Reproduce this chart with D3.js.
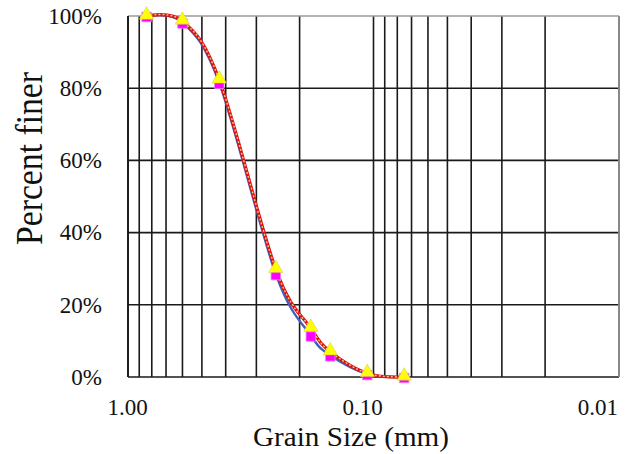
<!DOCTYPE html>
<html><head><meta charset="utf-8">
<script src="https://cdn.jsdelivr.net/npm/d3@7"></script>
<style>html,body{margin:0;padding:0;background:#fff;}</style>
</head><body>
<script>
// Data
const grainSizes = [0.84, 0.6, 0.425, 0.25, 0.18, 0.15, 0.106, 0.075];   // mm
const finerSquares = [100, 98.2, 81.5, 28.5, 11.5, 6.0, 0.8, 0];        // %
const finerTriangles = [100, 98.6, 82.3, 29.8, 13.5, 7.0, 1.0, 0];      // %
const xLabelTicks = [1, 0.1, 0.01];
const yTicks = [0, 20, 40, 60, 80, 100];
const xTitle = "Grain Size (mm)";
const yTitle = "Percent finer";

const W = 643, H = 454;
const m = {left: 128, right: 24, top: 16, bottom: 77};
const FONT = "'Liberation Serif', 'Times New Roman', serif";
const svg = d3.select("body").append("svg").attr("width", W).attr("height", H)
  .style("font-family", FONT);

const x = d3.scaleLog().domain([1, 0.01]).range([m.left, W - m.right]);
const y = d3.scaleLinear().domain([0, 100]).range([H - m.bottom, m.top]);

// vertical grid
const g = svg.append("g");
g.selectAll("line.vg").data(x.ticks()).join("line")
  .attr("x1", d => x(d)).attr("x2", d => x(d))
  .attr("y1", y(0)).attr("y2", y(100))
  .attr("stroke", "#1a1a1a").attr("stroke-width", 1.6);
// horizontal grid
g.selectAll("line.hg").data(yTicks).join("line")
  .attr("x1", x(1)).attr("x2", x(0.01))
  .attr("y1", d => y(d)).attr("y2", d => y(d))
  .attr("stroke", d => d === 100 ? "#9a9a9a" : "#1a1a1a").attr("stroke-width", 1.6);
// right border
g.append("line").attr("x1", x(0.01)).attr("x2", x(0.01)).attr("y1", y(0)).attr("y2", y(100))
  .attr("stroke", "#9a9a9a").attr("stroke-width", 1.6);
// left axis line
g.append("line").attr("x1", x(1)).attr("x2", x(1)).attr("y1", y(0)).attr("y2", y(100))
  .attr("stroke", "#1a1a1a").attr("stroke-width", 1.8);

// axes labels via d3 axes
const xAxis = d3.axisBottom(x).tickValues(xLabelTicks).tickSize(0).tickPadding(22)
  .tickFormat(d3.format(".2f"));
const xa = svg.append("g").attr("transform", `translate(0,${y(0)})`).call(xAxis)
  .attr("font-family", FONT);
xa.select(".domain").remove();
xa.selectAll("text").attr("font-family", FONT)
  .attr("font-size", 23).attr("fill", "#111")
  .attr("dx", (d, i) => -1 - 10.3 * i);

const yAxis = d3.axisLeft(y).tickValues(yTicks).tickSize(0).tickPadding(26)
  .tickFormat(d => d + "%");
const ya = svg.append("g").attr("transform", `translate(${x(1)},0)`).call(yAxis)
  .attr("font-family", FONT);
ya.select(".domain").remove();
ya.selectAll("text").attr("font-family", FONT)
  .attr("font-size", 23).attr("fill", "#111");

// titles
svg.append("text").attr("x", 351).attr("y", 446).attr("text-anchor", "middle")
  .attr("font-family", FONT).attr("font-size", 27)
  .attr("textLength", 196).attr("lengthAdjust", "spacingAndGlyphs")
  .attr("fill", "#111").text(xTitle);
svg.append("text").attr("transform", "translate(42,158.5) rotate(-90)").attr("text-anchor", "middle")
  .attr("font-family", FONT).attr("font-size", 38)
  .attr("textLength", 173).attr("lengthAdjust", "spacingAndGlyphs")
  .attr("fill", "#111").text(yTitle);

// lines
const ptsS = grainSizes.map((s, i) => [x(s), y(finerSquares[i])]);
const ptsT = grainSizes.map((s, i) => [x(s), y(finerTriangles[i])]);
const line = d3.line().curve(d3.curveCardinal.tension(0));
svg.append("path").attr("d", line(ptsS)).attr("fill", "none")
  .attr("stroke", "#3f5fbf").attr("stroke-width", 2.4);
svg.append("path").attr("d", line(ptsT)).attr("fill", "none")
  .attr("stroke", "#e01010").attr("stroke-width", 3.2);
svg.append("path").attr("d", line(ptsT)).attr("fill", "none")
  .attr("stroke", "#e8c890").attr("stroke-width", 1.4).attr("stroke-dasharray", "2,2");

// markers
svg.append("g").selectAll("path").data(ptsS).join("path")
  .attr("transform", d => `translate(${d[0]},${d[1] + 1})`)
  .attr("d", d3.symbol(d3.symbolSquare, 90)())
  .attr("fill", "#ff00ff").attr("stroke", "#f080f0").attr("stroke-width", 0.8);
svg.append("g").selectAll("path").data(ptsT).join("path")
  .attr("transform", d => `translate(${d[0]},${d[1] - 1})`)
  .attr("d", d3.symbol(d3.symbolTriangle, 90)())
  .attr("fill", "#ffff00").attr("stroke", "#c8c860").attr("stroke-width", 0.5);
</script>
</body></html>
